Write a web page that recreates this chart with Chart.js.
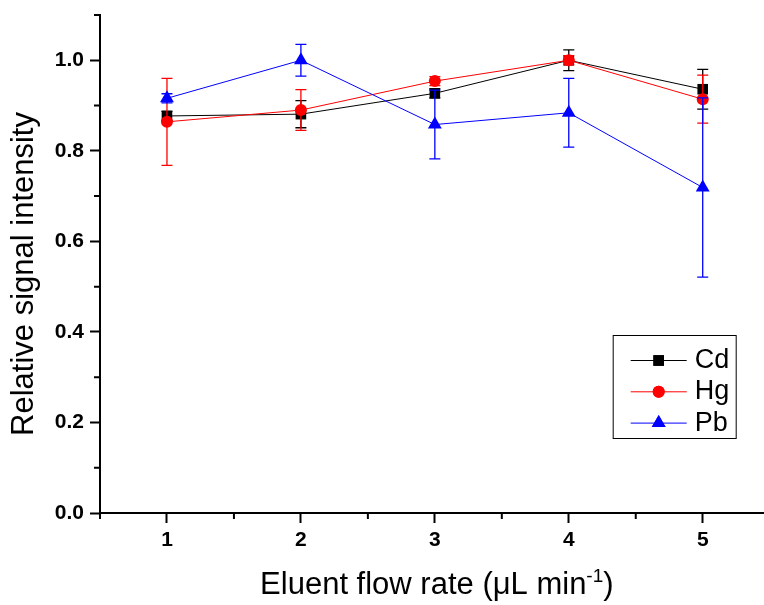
<!DOCTYPE html>
<html>
<head>
<meta charset="utf-8">
<script src="https://cdn.jsdelivr.net/npm/chart.js@4.4.1/dist/chart.umd.min.js"></script>
<style>
  html, body { margin: 0; padding: 0; background: #fff; overflow: hidden; }
  #wrap { width: 764px; height: 605px; overflow: hidden; }
</style>
</head>
<body>
<div id="wrap"><canvas id="flowChart" width="773" height="605"></canvas></div>
<script>
// flow rates and relative signal per element
const flowRates = [1, 2, 3, 4, 5];
const cdSignal = [0.877, 0.881, 0.927, 1.0, 0.936];
const hgSignal = [0.864, 0.890, 0.954, 1.0, 0.914];
const pbSignal = [0.916, 1.0, 0.858, 0.884, 0.719];
// standard deviations
const cdErr = [0.01, 0.03, 0.01, 0.023, 0.044];
const hgErr = [0.096, 0.045, 0.01, 0.01, 0.053];
const pbErr = [0.01, 0.035, 0.076, 0.076, 0.198];

const xTicks = [1, 2, 3, 4, 5];
const xMinorTicks = [0.5, 1.5, 2.5, 3.5, 4.5, 5.5];
const yTicks = [0, 0.2, 0.4, 0.6, 0.8, 1.0];
const yMinorTicks = [0.1, 0.3, 0.5, 0.7, 0.9, 1.1];

const FONT = '"Liberation Sans", Arial, sans-serif';

const toPoints = vals => flowRates.map((x, i) => ({ x: x, y: vals[i] }));

// error bars, drawn right after each dataset
const errorBars = {
    id: 'errorBars',
    afterDatasetDraw(chart, args) {
        const ds = chart.data.datasets[args.index];
        if (!ds.errors) return;
        const ctx = chart.ctx, xs = chart.scales.x, ys = chart.scales.y;
        ctx.save();
        ctx.strokeStyle = ds.borderColor;
        ctx.lineWidth = 1.3;
        ds.data.forEach((p, i) => {
            const e = ds.errors[i];
            const px = xs.getPixelForValue(p.x);
            const top = ys.getPixelForValue(p.y + e);
            const bot = ys.getPixelForValue(p.y - e);
            ctx.beginPath();
            ctx.moveTo(px, top); ctx.lineTo(px, bot);
            ctx.moveTo(px - 5.5, top); ctx.lineTo(px + 5.5, top);
            ctx.moveTo(px - 5.5, bot); ctx.lineTo(px + 5.5, bot);
            ctx.stroke();
        });
        ctx.restore();
    }
};

// short minor ticks on both axes
const minorTicks = {
    id: 'minorTicks',
    afterDraw(chart) {
        const ctx = chart.ctx, xs = chart.scales.x, ys = chart.scales.y;
        const area = chart.chartArea;
        ctx.save();
        ctx.strokeStyle = '#000';
        ctx.lineWidth = 2;
        ctx.beginPath();
        xMinorTicks.filter(v => v <= xs.max).forEach(v => {
            const px = xs.getPixelForValue(v);
            ctx.moveTo(px, area.bottom); ctx.lineTo(px, area.bottom + 6);
        });
        yMinorTicks.forEach(v => {
            const py = ys.getPixelForValue(v);
            ctx.moveTo(area.left - 6, py); ctx.lineTo(area.left, py);
        });
        ctx.stroke();
        ctx.restore();
    }
};

// axis titles (x title needs a superscript)
const axisTitles = {
    id: 'axisTitles',
    afterDraw(chart) {
        const ctx = chart.ctx, area = chart.chartArea;
        const xs = chart.scales.x;
        ctx.save();
        ctx.fillStyle = '#000';
        ctx.textBaseline = 'alphabetic';

        const main = 'Eluent flow rate (\u03bcL min';
        const sup = '-1';
        const tail = ')';
        ctx.font = '31px ' + FONT;
        const wMain = ctx.measureText(main).width;
        const wTail = ctx.measureText(tail).width;
        ctx.font = '19px ' + FONT;
        const wSup = ctx.measureText(sup).width;
        const total = wMain + wSup + wTail;
        let x = (xs.getPixelForValue(0.5) + xs.getPixelForValue(5.5)) / 2 + 2 - total / 2;
        const base = 594;
        ctx.textAlign = 'left';
        ctx.font = '31px ' + FONT;
        ctx.fillText(main, x, base);
        x += wMain;
        ctx.font = '19px ' + FONT;
        ctx.fillText(sup, x, base - 12);
        x += wSup;
        ctx.font = '31px ' + FONT;
        ctx.fillText(tail, x, base);

        ctx.translate(33, (area.top + area.bottom) / 2 + 10);
        ctx.rotate(-Math.PI / 2);
        ctx.textAlign = 'center';
        ctx.fillText('Relative signal intensity', 0, 0);
        ctx.restore();
    }
};

// boxed legend inside the plot
const boxLegend = {
    id: 'boxLegend',
    afterDraw(chart) {
        const ctx = chart.ctx, area = chart.chartArea;
        const xs = chart.scales.x;
        const left = xs.getPixelForValue(5.5) - 157, top = area.bottom - 178;
        const w = 123, h = 103, row = 31.3;
        ctx.save();
        ctx.strokeStyle = '#000';
        ctx.lineWidth = 1;
        ctx.strokeRect(left + 0.5, top + 0.5, w, h);
        ctx.font = '27px ' + FONT;
        ctx.textBaseline = 'middle';
        ctx.textAlign = 'left';
        chart.data.datasets.forEach((ds, i) => {
            const y = top + 25.5 + i * row;
            ctx.strokeStyle = ds.borderColor;
            ctx.lineWidth = 1;
            ctx.beginPath();
            ctx.moveTo(left + 18, y); ctx.lineTo(left + 74, y);
            ctx.stroke();
            ctx.fillStyle = ds.pointBackgroundColor;
            Chart.helpers.drawPoint(ctx, {
                pointStyle: ds.pointStyle, radius: ds.pointRadius, borderWidth: 0, rotation: 0
            }, left + 46, y);
            ctx.fill();
            ctx.fillStyle = '#000';
            ctx.fillText(ds.label, left + 82, y);
        });
        ctx.restore();
    }
};

function series(label, vals, errs, color, style, radius, order) {
    return {
        label: label,
        data: toPoints(vals),
        errors: errs,
        borderColor: color,
        backgroundColor: color,
        pointBackgroundColor: color,
        pointBorderColor: color,
        pointBorderWidth: 0,
        pointStyle: style,
        pointRadius: radius,
        borderWidth: 1,
        tension: 0,
        order: order
    };
}

new Chart(document.getElementById('flowChart'), {
    type: 'line',
    data: {
        datasets: [
            series('Cd', cdSignal, cdErr, '#000000', 'rect', 7.5, 3),
            series('Hg', hgSignal, hgErr, '#ff0000', 'circle', 6, 2),
            series('Pb', pbSignal, pbErr, '#0000ff', 'triangle', 8, 1)
        ]
    },
    options: {
        responsive: false,
        animation: false,
        layout: { padding: { top: 15, left: 0, right: 0, bottom: 0 } },
        plugins: { legend: { display: false }, tooltip: { enabled: false } },
        scales: {
            x: {
                type: 'linear',
                // axis runs to 5.5, cut at the right edge of the page
                min: 0.5, max: 5.465,
                afterBuildTicks: s => { s.ticks = xTicks.map(v => ({ value: v })); },
                afterFit: s => { s.height = 92; s.paddingLeft = 0; s.paddingRight = 0; },
                grid: { drawOnChartArea: false, tickLength: 10, tickWidth: 2, tickColor: '#000' },
                border: { color: '#000', width: 2 },
                ticks: {
                    color: '#000', padding: 5,
                    font: { family: FONT, size: 21, weight: 'bold' },
                    maxRotation: 0,
                    callback: v => String(v)
                }
            },
            y: {
                type: 'linear',
                min: 0, max: 1.1,
                afterBuildTicks: s => { s.ticks = yTicks.map(v => ({ value: v })); },
                afterFit: s => { s.width = 100; },
                grid: { drawOnChartArea: false, tickLength: 10, tickWidth: 2, tickColor: '#000' },
                border: { color: '#000', width: 2 },
                ticks: {
                    color: '#000', padding: 6,
                    font: { family: FONT, size: 21, weight: 'bold', lineHeight: 0.8 },
                    callback: v => v.toFixed(1)
                }
            }
        }
    },
    plugins: [errorBars, minorTicks, axisTitles, boxLegend]
});
</script>
</body>
</html>
